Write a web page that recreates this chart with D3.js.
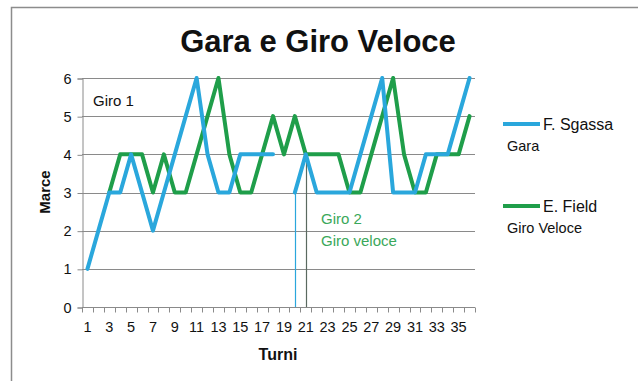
<!DOCTYPE html>
<html>
<head>
<meta charset="utf-8">
<script src="https://cdn.jsdelivr.net/npm/d3@7"></script>
<style>
  html, body { margin: 0; padding: 0; background: #fff; }
  svg { display: block; font-family: "Liberation Sans", Arial, sans-serif; }
</style>
</head>
<body>
<svg id="chart" width="638" height="381"></svg>
<script>
// Turns 1..36
const turni = d3.range(1, 37);
// Gear per turn; null = no value for that turn
const sgassa = [1,2,3,3,4,3,2,3,4,5,6,4,3,3,4,4,4,4,null,3,4,3,3,3,3,4,5,6,3,3,3,4,4,4,5,6];
const field  = [null,null,3,4,4,4,3,4,3,3,4,5,6,4,3,3,4,5,4,5,4,4,4,4,3,3,4,5,6,4,3,3,4,4,4,5];
const yTicks = [0,1,2,3,4,5,6];
const xTickLabels = turni.filter(t => t % 2 === 1);
const seriesNames = ["F. Sgassa", "E. Field"];
const seriesSub = ["Gara", "Giro Veloce"];
const giro2Turn = 20;   // lap 2 starts
const giroVeloceTurn = 21;

const blue = "#2aa7dc", green = "#1f9e4a";

const svg = d3.select("#chart");
const plot = { left: 82, right: 475, top: 78, bottom: 307 };

// outer chart frame
svg.append("rect").attr("x", 11.5).attr("y", 7.5).attr("width", 700).attr("height", 500)
  .attr("fill", "none").attr("stroke", "#8c8c8c").attr("stroke-width", 1.5);

const x = d3.scaleBand().domain(turni).range([plot.left, plot.right]);
const y = d3.scaleLinear().domain([0, 6]).range([plot.bottom, plot.top]);
const cx = t => x(t) + x.bandwidth() / 2;

// gridlines
svg.append("g").selectAll("line").data(yTicks.filter(v => v > 0)).join("line")
  .attr("x1", plot.left).attr("x2", plot.right)
  .attr("y1", d => Math.round(y(d)) + 0.5).attr("y2", d => Math.round(y(d)) + 0.5)
  .attr("stroke", "#8a8a8a").attr("stroke-width", 1);

// y axis
const yAxis = svg.append("g").attr("transform", `translate(${plot.left + 0.5},0.5)`)
  .call(d3.axisLeft(y).tickValues(yTicks).tickSize(5).tickPadding(6).tickFormat(d3.format("d")));
yAxis.select(".domain").attr("stroke", "#8a8a8a");
yAxis.selectAll(".tick line").attr("stroke", "#8a8a8a");
yAxis.selectAll("text").attr("font-size", 14.5).attr("fill", "#111")
  .attr("font-family", "Liberation Sans, Arial, sans-serif");

// x axis: ticks on category boundaries, labels on odd turns
const xg = svg.append("g").attr("transform", `translate(0,${plot.bottom + 0.5})`);
xg.append("line").attr("x1", plot.left).attr("x2", plot.right).attr("y1", 0).attr("y2", 0)
  .attr("stroke", "#8a8a8a");
const bounds = turni.map(t => x(t)).concat([plot.right]);
xg.selectAll("line.tk").data(bounds).join("line").attr("class", "tk")
  .attr("x1", d => Math.round(d) + 0.5).attr("x2", d => Math.round(d) + 0.5)
  .attr("y1", 0).attr("y2", 5).attr("stroke", "#8a8a8a");
xg.selectAll("text").data(xTickLabels).join("text")
  .attr("x", d => cx(d)).attr("y", 24).attr("text-anchor", "middle")
  .attr("font-size", 14.5).attr("fill", "#111").text(d => d);

// lap markers
svg.append("line").attr("x1", Math.round(cx(giro2Turn)) + 0.5).attr("x2", Math.round(cx(giro2Turn)) + 0.5)
  .attr("y1", plot.bottom).attr("y2", y(sgassa[giro2Turn - 1]))
  .attr("stroke", blue).attr("stroke-width", 1.2);
svg.append("line").attr("x1", Math.round(cx(giroVeloceTurn)) + 0.5).attr("x2", Math.round(cx(giroVeloceTurn)) + 0.5)
  .attr("y1", plot.bottom).attr("y2", y(field[giroVeloceTurn - 1]))
  .attr("stroke", "#5a6a60").attr("stroke-width", 1.2);

// series lines
const line = d3.line().defined(d => d.v !== null).x(d => cx(d.t)).y(d => y(d.v));
[[field, green], [sgassa, blue]].forEach(([vals, col]) => {
  svg.append("path").datum(turni.map((t, i) => ({ t, v: vals[i] })))
    .attr("d", line).attr("fill", "none").attr("stroke", col)
    .attr("stroke-width", 4).attr("stroke-linejoin", "round").attr("stroke-linecap", "round");
});

// annotations
svg.append("text").attr("x", 93).attr("y", 106).attr("font-size", 15).attr("fill", "#111").text("Giro 1");
svg.append("text").attr("x", 321).attr("y", 224).attr("font-size", 15).attr("fill", "#3aa85a").text("Giro 2");
svg.append("text").attr("x", 321).attr("y", 246).attr("font-size", 15).attr("fill", "#3aa85a").text("Giro veloce");

// titles
svg.append("text").attr("x", 318).attr("y", 52).attr("text-anchor", "middle")
  .attr("font-size", 31).attr("font-weight", "bold").attr("fill", "#111").text("Gara e Giro Veloce");
svg.append("text").attr("transform", "translate(50,192) rotate(-90)").attr("text-anchor", "middle")
  .attr("font-size", 15).attr("font-weight", "bold").attr("fill", "#111").text("Marce");
svg.append("text").attr("x", 278).attr("y", 360).attr("text-anchor", "middle")
  .attr("font-size", 16).attr("font-weight", "bold").attr("fill", "#111").text("Turni");

// legend
const legend = svg.append("g");
const ly = [124, 206];
[blue, green].forEach((col, i) => {
  legend.append("line").attr("x1", 503).attr("x2", 540).attr("y1", ly[i]).attr("y2", ly[i])
    .attr("stroke", col).attr("stroke-width", 4);
  legend.append("text").attr("x", 543).attr("y", ly[i] + 6).attr("font-size", 16).attr("fill", "#111")
    .text(seriesNames[i]);
  legend.append("text").attr("x", 507).attr("y", ly[i] + 27).attr("font-size", 14.5).attr("fill", "#111")
    .text(seriesSub[i]);
});
</script>
</body>
</html>
